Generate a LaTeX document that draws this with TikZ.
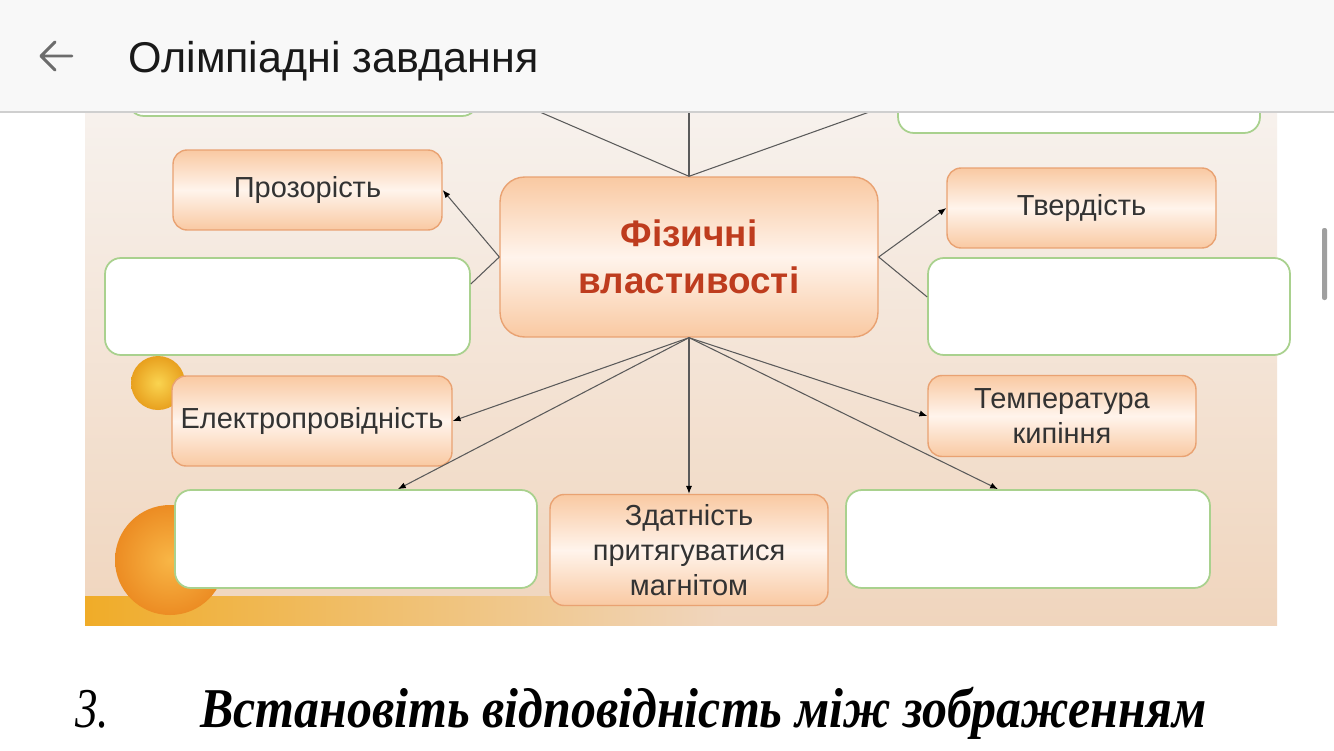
\documentclass[tikz,border=0pt]{standalone}
\usepackage{fontspec}
\setmainfont{Liberation Serif}
\newfontfamily\uisans{Liberation Sans}
\usetikzlibrary{arrows.meta}

\definecolor{headbg}{HTML}{F8F8F8}
\definecolor{headline}{HTML}{CFCFCF}
\definecolor{bgtop}{HTML}{F7F2EE}
\definecolor{bgbottom}{HTML}{F0D5BD}
\definecolor{peach}{HTML}{F9C9A2}
\definecolor{peachlight}{HTML}{FFF4EC}
\definecolor{boxedge}{HTML}{E9A272}
\definecolor{greenedge}{HTML}{A9D18E}
\definecolor{linegray}{HTML}{5A5A5A}
\definecolor{labelgray}{HTML}{333333}
\definecolor{titlered}{HTML}{BE3C1E}

\tikzset{
  propbox/.style={draw=boxedge, line width=0.8pt, rounded corners=8pt,
    top color=peach, bottom color=peach, middle color=peachlight,
    text=labelgray, font=\uisans\fontsize{16.5}{20}\selectfont,
    align=center, inner sep=0pt},
  emptybox/.style={draw=greenedge, line width=1pt, rounded corners=9pt,
    fill=white, inner sep=0pt},
  conn/.style={draw=linegray, line width=0.6pt},
  tip/.style={-{Latex[length=4.5pt,width=3.5pt,color=black]}},
}

\begin{document}
\begin{tikzpicture}[x=0.02cm, y=-0.02cm]
    \useasboundingbox (0,0) rectangle (1334,750);
    \fill[white] (0,0) rectangle (1334,750);

    % Picture background
    \shade[top color=bgtop, bottom color=bgbottom] (85,100) rectangle (1277,625);
    \shade[left color={rgb,255:red,240;green,172;blue,40}, right color=bgbottom]
        (85,596) rectangle (720,625);
    \shade[inner color={rgb,255:red,250;green,212;blue,80}, outer color={rgb,255:red,232;green,160;blue,30}]
        (158,383) circle (27);
    \shade[inner color={rgb,255:red,248;green,182;blue,70}, outer color={rgb,255:red,236;green,140;blue,35}]
        (170,560) circle (55);

    % Property boxes
    \node[propbox, minimum width=7.56cm, minimum height=3.2cm, rounded corners=14pt,
          text=titlered, font=\uisans\bfseries\fontsize{21}{27}\selectfont]
          (phys) at (689,257) {Фізичні\\властивості};
    \node[propbox, minimum width=5.38cm, minimum height=1.6cm] (prozor) at (307.5,190) {Прозорість};
    \node[propbox, minimum width=5.38cm, minimum height=1.6cm] (tverd) at (1081.5,208) {Твердість};
    \node[propbox, minimum width=5.6cm, minimum height=1.8cm] (elektro) at (312,421) {Електропровідність};
    \node[propbox, minimum width=5.36cm, minimum height=1.62cm] (temper) at (1062,416) {Температура\\кипіння};
    \node[propbox, minimum width=5.56cm, minimum height=2.22cm] (zdatn) at (689,550) {Здатність\\притягуватися\\магнітом};

    % Empty boxes
    \node[emptybox, minimum width=7cm, minimum height=1.72cm] (emptyTL) at (303,73) {};
    \node[emptybox, minimum width=7.24cm, minimum height=1.86cm] (emptyTR) at (1079,86.5) {};
    \node[emptybox, minimum width=7.3cm, minimum height=1.94cm] (emptyL) at (287.5,306.5) {};
    \node[emptybox, minimum width=7.24cm, minimum height=1.94cm] (emptyR) at (1109,306.5) {};
    \node[emptybox, minimum width=7.24cm, minimum height=1.96cm] (emptyBL) at (356,539) {};
    \node[emptybox, minimum width=7.28cm, minimum height=1.96cm] (emptyBR) at (1028,539) {};

    % Connectors
    \coordinate (upL) at (512,100);
    \coordinate (upM) at (689,100);
    \coordinate (upR) at (903,100);
    \draw[conn] (phys.north) -- (upL);
    \draw[conn] (phys.north) -- (upM);
    \draw[conn] (phys.north) -- (upR);
    \draw[conn, tip] (phys.west) -- (prozor.east);
    \draw[conn] (phys.west) -- (emptyL.7);
    \draw[conn, tip] (phys.east) -- (tverd.west);
    \draw[conn] (phys.east) -- (emptyR.177);
    \draw[conn, tip] (phys.south) -- (elektro.east);
    \draw[conn, tip] (phys.south) -- (emptyBL.50);
    \draw[conn, tip] (phys.south) -- (zdatn.north);
    \draw[conn, tip] (phys.south) -- (temper.west);
    \draw[conn, tip] (phys.south) -- (emptyBR.121);

    % Header bar
    \fill[headbg] (0,0) rectangle (1334,112);
    \draw[headline, line width=1.2pt] (0,112) -- (1334,112);
    \draw[gray!85!black, line width=1.7pt, line cap=round, line join=round]
        (72,56) -- (41,56) (55,42) -- (41,56) -- (55,70);
    \node[anchor=base west, inner sep=0pt, text=black!90,
          font=\uisans\fontsize{24.5}{29}\selectfont] (title) at (128,72) {Олімпіадні завдання};

    % Scroll bar
    \fill[gray!75, rounded corners=1.2pt] (1322,228) rectangle (1327,300);

    % Task text
    \node[anchor=base west, inner sep=0pt, font=\itshape\fontsize{32}{36}\selectfont]
        (num) at (75,727) {\scalebox{0.8}[1]{3.}};
    \node[anchor=base west, inner sep=0pt, font=\bfseries\itshape\fontsize{32}{36}\selectfont]
        (task) at (200,727) {\scalebox{0.888}[1]{Встановіть відповідність між зображенням}};
\end{tikzpicture}
\end{document}
